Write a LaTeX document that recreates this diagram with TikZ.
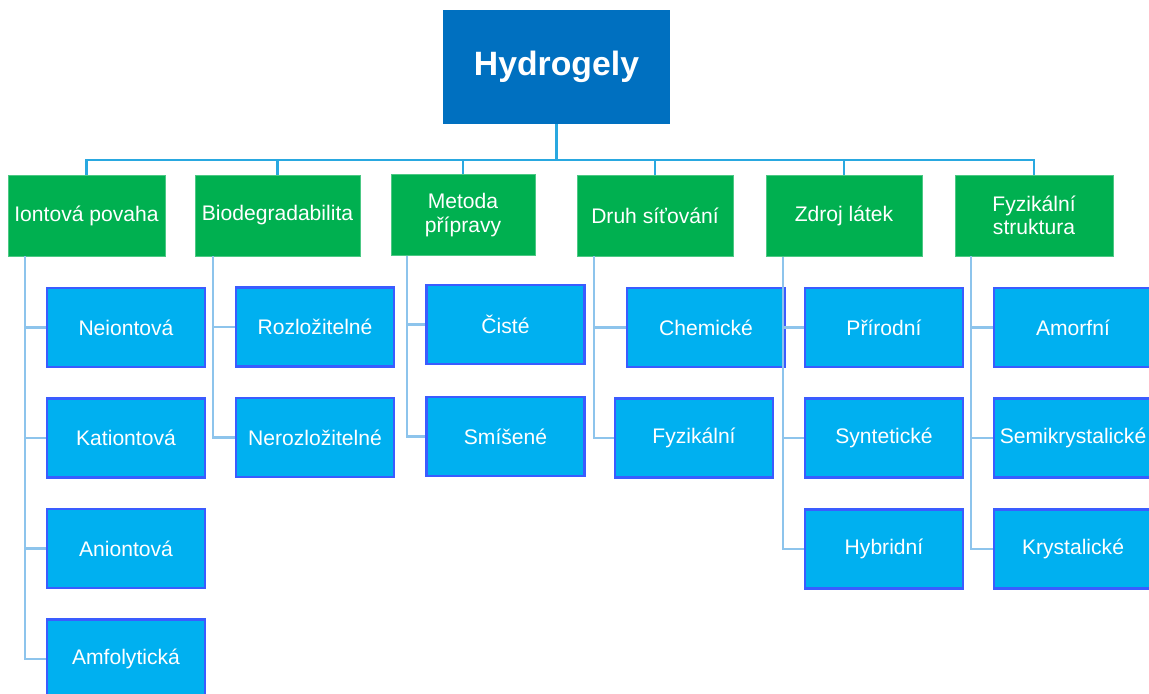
\documentclass[tikz,border=0pt]{standalone}
\usepackage{fontspec}
\setmainfont{Liberation Sans}
\usetikzlibrary{positioning}

\definecolor{rootblue}{RGB}{0,112,192}
\definecolor{catgreen}{RGB}{0,176,80}
\definecolor{itemblue}{RGB}{0,176,240}
\definecolor{itemedge}{RGB}{58,92,255}
\definecolor{busblue}{RGB}{41,168,224}
\definecolor{treeblue}{RGB}{141,196,236}

\tikzset{
	root/.style={rectangle, fill=rootblue, text=white, font=\bfseries\fontsize{24}{28}\selectfont,
		minimum width=227*0.025cm, minimum height=114*0.025cm, inner sep=0pt},
	cat/.style={rectangle, fill=catgreen, draw=catgreen!70!white, line width=0.4pt, text=white,
		font=\fontsize{15}{16.5}\selectfont, align=center,
		minimum height=81*0.025cm, inner sep=0pt},
	item/.style={rectangle, fill=itemblue, draw=itemedge, line width=1.8pt, text=white,
		font=\fontsize{15}{17}\selectfont,
		minimum width=158*0.025cm, minimum height=79*0.025cm, inner sep=0pt},
	bus/.style={draw=busblue, line width=2pt},
	tree/.style={draw=treeblue, line width=2pt}
}

\begin{document}
\begin{tikzpicture}[x=0.025cm, y=-0.025cm]
		\useasboundingbox (0,0) rectangle (1149,694);
		\clip (0,0) rectangle (1149,694);

		\node[root] (hydro) at (556.5,67) {Hydrogely};

		\node[cat, minimum width=157*0.025cm] (ion) at (86.5,215.5) {Iontová povaha};
		\node[cat, minimum width=165*0.025cm] (bio) at (277.5,215.5) {Biodegradabilita};
		\node[cat, minimum width=144*0.025cm] (met) at (463,215) {Metoda\\přípravy};
		\node[cat, minimum width=156*0.025cm] (druh) at (655,215.5) {Druh síťování};
		\node[cat, minimum width=156*0.025cm] (zdroj) at (844,216) {Zdroj látek};
		\node[cat, minimum width=158*0.025cm] (fyz) at (1034,215.5) {Fyzikální\\struktura};

		\node[item] (neion) at (126,327.5) {Neiontová};
		\node[item] (kation) at (126,438) {Kationtová};
		\node[item] (anion) at (126,548.5) {Aniontová};
		\node[item] (amfo) at (126,659) {Amfolytická};

		\node[item] (rozl) at (315,327) {Rozložitelné};
		\node[item] (nerozl) at (315,437.5) {Nerozložitelné};

		\node[item] (ciste) at (505.5,324.5) {Čisté};
		\node[item] (smisene) at (505.5,436.5) {Smíšené};

		\node[item] (chem) at (706,327.5) {Chemické};
		\node[item] (fyzsit) at (694,438) {Fyzikální};

		\node[item] (prir) at (884,327.5) {Přírodní};
		\node[item] (synt) at (884,438) {Syntetické};
		\node[item] (hybr) at (884,549) {Hybridní};

		\node[item] (amorf) at (1073,327.5) {Amorfní};
		\node[item] (semikr) at (1073,438) {Semikrystalické};
		\node[item] (kryst) at (1073,549) {Krystalické};

		% sběrnice pod kořenem
		\coordinate (bus) at (0,160);
		\draw[bus] (hydro.south) -- (hydro.south |- bus);
		\draw[bus] (ion.north) |- (bus -| fyz) -- (fyz.north);
		\foreach \c in {bio,met,druh,zdroj}
			\draw[bus] (\c.north) -- (\c.north |- bus);

		% větve ke kategoriím
		\coordinate (ionT) at (25,0);
		\coordinate (bioT) at (213,0);
		\coordinate (metT) at (407,0);
		\coordinate (druhT) at (594,0);
		\coordinate (zdrojT) at (783,0);
		\coordinate (fyzT) at (971,0);

		\foreach \c in {neion,kation,anion,amfo}
			\draw[tree] (ionT |- ion.south) |- (\c.west);
		\foreach \c in {rozl,nerozl}
			\draw[tree] (bioT |- bio.south) |- (\c.west);
		\foreach \c in {ciste,smisene}
			\draw[tree] (metT |- met.south) |- (\c.west);
		\foreach \c in {chem,fyzsit}
			\draw[tree] (druhT |- druh.south) |- (\c.west);
		\foreach \c in {prir,synt,hybr}
			\draw[tree] (zdrojT |- zdroj.south) |- (\c.west);
		\foreach \c in {amorf,semikr,kryst}
			\draw[tree] (fyzT |- fyz.south) |- (\c.west);
	\end{tikzpicture}
\end{document}
